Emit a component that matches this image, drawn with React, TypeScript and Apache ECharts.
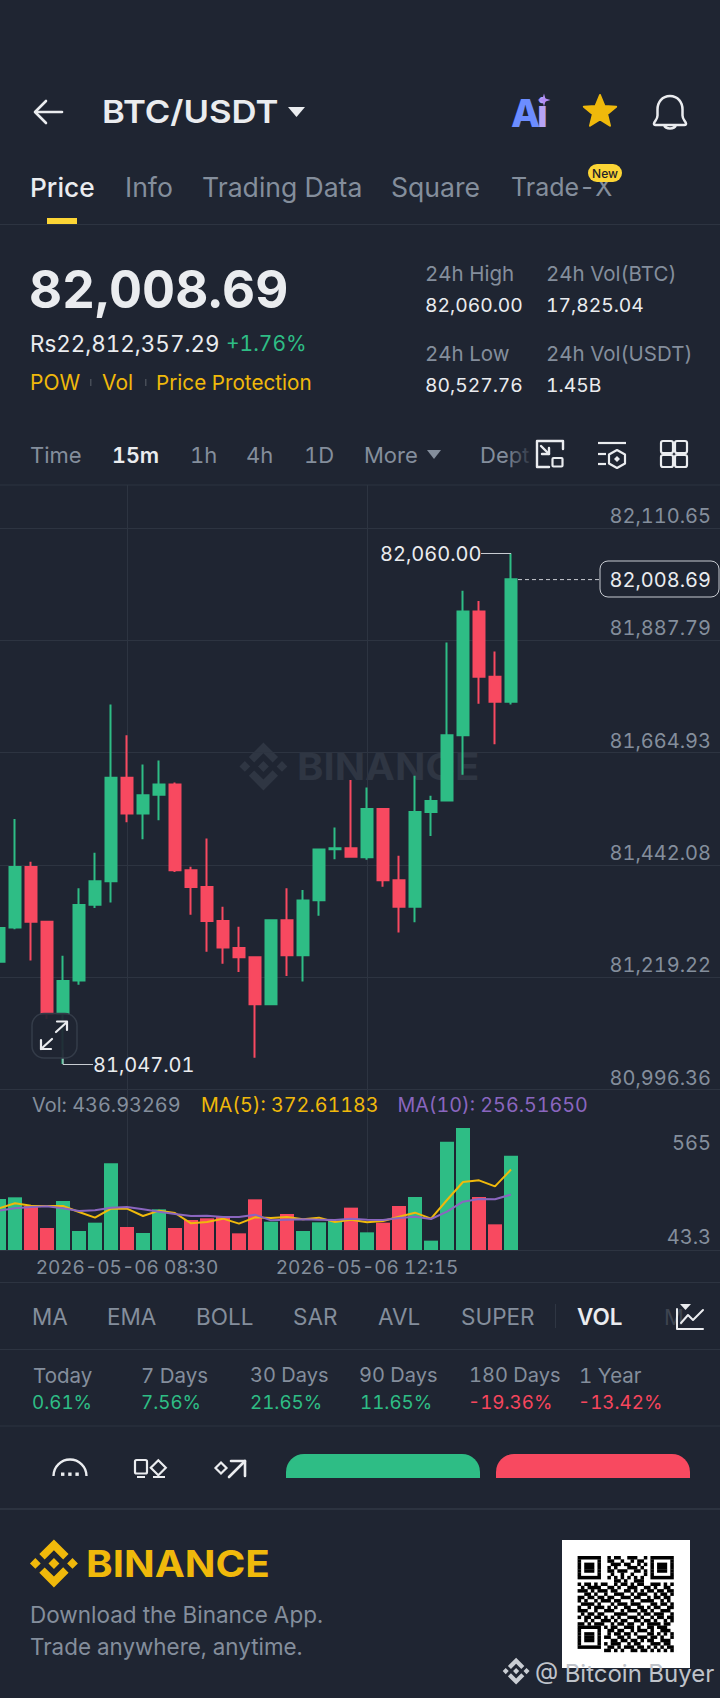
import React, { useEffect, useRef } from "react";
import * as echarts from "echarts";

const categories = [
  "2026-05-06 06:30","2026-05-06 06:45","2026-05-06 07:00","2026-05-06 07:15","2026-05-06 07:30","2026-05-06 07:45",
  "2026-05-06 08:00","2026-05-06 08:15","2026-05-06 08:30","2026-05-06 08:45","2026-05-06 09:00","2026-05-06 09:15",
  "2026-05-06 09:30","2026-05-06 09:45","2026-05-06 10:00","2026-05-06 10:15","2026-05-06 10:30","2026-05-06 10:45",
  "2026-05-06 11:00","2026-05-06 11:15","2026-05-06 11:30","2026-05-06 11:45","2026-05-06 12:00","2026-05-06 12:15",
  "2026-05-06 12:30","2026-05-06 12:45","2026-05-06 13:00","2026-05-06 13:15","2026-05-06 13:30","2026-05-06 13:45",
  "2026-05-06 14:00","2026-05-06 14:15","2026-05-06 14:30","2026-05-06 14:45","2026-05-06 15:00","2026-05-06 15:15",
  "2026-05-06 15:30","2026-05-06 15:45","2026-05-06 16:00","2026-05-06 16:15","2026-05-06 16:30","2026-05-06 16:45",
  "2026-05-06 17:00","2026-05-06 17:15","2026-05-06 17:30","2026-05-06 17:45",
];
const opens = [81249.8,81317.9,81437.7,81329.2,81146.2,81212.6,81363.2,81409.4,81615.1,81543.8,81581.0,81601.3,81431.2,81398.0,81330.8,81277.4,81258.8,81165.6,81332.4,81262.8,81372.1,81473.3,81475.0,81457.2,81552.7,81411.8,81359.2,81547.0,81569.7,81699.3,81944.6,81815.1,81765.7];
const closes = [81317.0,81437.7,81329.2,81146.2,81211.8,81362.4,81409.4,81615.1,81543.8,81580.2,81601.3,81431.2,81398.0,81330.8,81278.2,81258.8,81165.6,81332.4,81262.8,81371.3,81472.5,81475.0,81458.0,81552.7,81411.8,81359.2,81547.0,81568.9,81699.3,81944.6,81815.1,81765.7,82008.69];
const lows = [81237.7,81314.6,81252.3,81136.5,81047.01,81204.5,81356.8,81367.3,81526.8,81492.8,81530.8,81428.0,81343.0,81270.0,81245.8,81229.6,81059.5,81165.6,81221.5,81211.0,81341.3,81453.0,81458.0,81452.3,81398.8,81308.1,81328.4,81499.2,81568.9,81620.7,81761.6,81681.5,81760.0];
const highs = [81359.2,81533.3,81448.2,81329.2,81262.0,81395.6,81466.1,81760.0,81699.3,81641.0,81649.0,81605.3,81438.5,81494.4,81359.2,81319.5,81258.8,81332.4,81395.6,81392.3,81472.5,81516.3,81610.2,81595.6,81552.7,81460.4,81619.1,81579.4,81883.1,81985.9,81965.7,81865.3,82060.0];
const volumes = [236.2,244.0,203.8,101.9,227.0,88.0,126.6,401.4,106.5,78.7,188.4,101.9,139.0,146.7,154.4,77.2,234.7,131.2,166.8,88.0,128.2,134.3,196.1,81.8,126.6,203.8,245.5,43.3,501.8,565.0,245.5,118.9,436.93];
const ma5 = [193,216.2,205.4,203.8,203.8,176,149.8,191.5,191.5,157.5,182.2,171.4,123.5,129.7,145.1,122,151.3,148.2,152.9,142,149.8,129.7,140.5,128.2,134.3,154.4,172.9,145.1,231.6,315,322.7,294.9,372.61];
const ma10 = [182.2,193,199.2,202.3,193,180.6,183.7,196.1,199.2,188.4,177.6,166.8,157.5,159,152.9,152.9,163.7,137.4,140.5,142,140.5,139,145.1,140.5,139,148.2,154.4,143.6,177.6,223.9,236.2,234.7,256.52];
const priceTicks = [82110.65,81887.79,81664.93,81442.08,81219.22,80996.36];
const timeTabs = ["Price","Info","Trading Data","Square","Trade-X"];
const qrMiddleTop = ["010110011100101","011001001011000","001110110010110","010100011101001","011011100110100","001001001000110","010101010101010","000110100111000"];
const qrMain = [
  "10110101100101101011001110101","01011110011010011100110100110","11101011101100110101011011011","00110100100111001011100101101",
  "11011011011001110110010110110","10100101110110001001111001010","01111010001011101110001101101","10010111010100110011010110011",
  "11100100111001011101101001110","01011011000111100010110111001","10110110101010011101001011011","00101001110101100110110100101","11010111001011011001011110110",
];
const qrFinderRows = ["1111111","1000001","1011101","1011101","1011101","1000001","1111111"];
const qrLastMid = ["1011001110100110111001","0110110010111010011101","0101101101000110101011","1100110100111011010010","0011011011010110011101","1011100101100011101100","0110101110110101010111","1101010011011010101011"];

const BG = "#1F2532", GRID = "#2D3441", GREY = "#848E9C", WHITE = "#EAECEF", GREEN = "#2EBD85", RED = "#F6465D", RED2 = "#F84960", GOLD = "#F0B90B", PURPLE = "#8A66BF";
const FONT = "Inter";

const LOGO = "M38.73 53.2L64 27.94l25.28 25.28 14.7-14.7L64-1.46 24.03 38.51zM-1.46 64l14.7-14.7L27.94 64l-14.7 14.7zM38.73 74.8L64 100.06l25.28-25.28 14.71 14.69L64 129.46 24.03 89.5zM100.06 64l14.7-14.7 14.7 14.7-14.7 14.7zM78.91 64L64 49.07 49.09 64 64 78.93z";
const BELL = "M670 96c-8 0-12.500 6.500-12.500 13.500v6c0 4-3 5.500-3.500 8 0 1 .5 1.500 1.500 1.500h29c1 0 1.500-.5 1.500-1.500-.5-2.500-3.500-4-3.500-8v-6c0-7-4.500-13.500-12.500-13.500zM664 125c1 2.500 3 3.500 6 3.500s5-1 6-3.500";
echarts.graphic.registerShape("logo", echarts.graphic.extendPath(LOGO, {}));
echarts.graphic.registerShape("bell", echarts.graphic.extendPath(BELL, {}));

const T = (text: string, x: number, y: number, size: number, fill: string, weight = 400, align = "left", extra: any = {}) => ({
  type: "text", x, y, z: 20, silent: true,
  style: { text, fill, font: `${weight} ${size}px ${FONT}`, textAlign: align, textVerticalAlign: "middle", verticalAlign: "middle", ...extra },
});
const W = (el: any, scaleX: number) => ({ ...el, scaleX, scaleY: 1 });
const L = (x1: number, y1: number, x2: number, y2: number, stroke: string, lineWidth = 1, extra: any = {}) => ({
  type: "line", z: 20, silent: true, shape: { x1, y1, x2, y2 }, style: { stroke, lineWidth, ...extra },
});
const PL = (points: number[][], stroke: string, lineWidth = 2.4) => ({
  type: "polyline", z: 20, silent: true, shape: { points }, style: { stroke, lineWidth, fill: "none", lineJoin: "round", lineCap: "round" },
});
const PG = (points: number[][], fill: string, extra: any = {}) => ({
  type: "polygon", z: 20, silent: true, shape: { points }, style: { fill, ...extra },
});
const R = (x: number, y: number, width: number, height: number, style: any, r: any = 0, z = 20) => ({
  type: "rect", z, silent: true, shape: { x, y, width, height, r }, style,
});

function star(cx: number, cy: number, ro: number, ri: number, n: number) {
  const pts: number[][] = [];
  for (let i = 0; i < n * 2; i++) {
    const a = -Math.PI / 2 + (i * Math.PI) / n, r = i % 2 ? ri : ro;
    pts.push([cx + r * Math.cos(a), cy + r * Math.sin(a)]);
  }
  return pts;
}
function diamond(cx: number, cy: number, r: number) {
  return [[cx, cy - r], [cx + r, cy], [cx, cy + r], [cx - r, cy]];
}

function qrElements() {
  const rows: string[] = [];
  for (let i = 0; i < 7; i++) rows.push(qrFinderRows[i] + "0" + qrMiddleTop[i].slice(0, 13) + "0" + qrFinderRows[i]);
  rows.push("00000000" + qrMiddleTop[7].slice(0, 13) + "00000000");
  for (const r of qrMain) rows.push(r);
  for (let i = 0; i < 7; i++) rows.push(qrFinderRows[i] + "0" + qrLastMid[i].slice(0, 21));
  rows.push("00000000" + qrLastMid[7].slice(0, 21));
  const m = 96 / 29, out: any[] = [];
  rows.forEach((row, j) => {
    let i = 0;
    while (i < row.length) {
      if (row[i] === "1") {
        let k = i;
        while (k < row.length && row[k] === "1") k++;
        out.push(R(577.6 + i * m, 1556 + j * m, (k - i) * m + 0.2, m + 0.2, { fill: "#000" }, 0, 21));
        i = k;
      } else i++;
    }
  });
  return out;
}

const fmt = (v: number) => v.toLocaleString("en-US", { minimumFractionDigits: 2, maximumFractionDigits: 2 });

const chrome: any[] = [
  // watermark under the candles
  { type: "logo", z: 0, silent: true, x: 240, y: 743, scaleX: 0.366, scaleY: 0.366, style: { fill: "#2F3643" } },
  { ...W(T("BINANCE", 297, 767, 37, "#2F3643", 700), 1.08), z: 0 },
  // header
  PL([[62, 112], [36, 112]], WHITE, 2.6), PL([[46, 101], [35, 112], [46, 123]], WHITE, 2.6),
  W(T("BTC/USDT", 102, 112, 31, WHITE, 600), 1.12),
  PG([[288, 107], [305, 107], [296.5, 117]], WHITE),
  T("A", 511, 113, 38, "#6C8DFF", 800), T("i", 537, 113, 38, "#B7A3F5", 800),
  PG(star(544, 100, 6.5, 2, 4), "#B18CF5"),
  PG(star(600, 112, 17, 7.5, 5), GOLD, { stroke: GOLD, lineWidth: 2, lineJoin: "round" }),
  { type: "bell", z: 20, silent: true, x: 0, y: 0, style: { fill: "none", stroke: WHITE, lineWidth: 2.5 } },
  // tabs
  T(timeTabs[0], 30, 187, 26.3, WHITE, 500), T(timeTabs[1], 125, 187, 26.6, GREY), T(timeTabs[2], 202, 187, 26.6, GREY),
  T(timeTabs[3], 391, 187, 26.6, GREY), T(timeTabs[4], 511, 187, 25, GREY),
  R(588, 164, 34, 18, { fill: "#FCD535" }, 9), T("New", 605, 173, 12, "#1E2329", 500, "center"),
  R(47, 218, 30, 6, { fill: "#FCD535" }),
  L(0, 224.5, 720, 224.5, GRID),
  // price block
  W(T("82,008.69", 29, 289, 52, WHITE, 700), 0.985),
  T("Rs22,812,357.29", 30, 343, 22.4, WHITE), T("+1.76%", 226, 343, 21, GREEN),
  T("POW", 30, 382, 21, GOLD), R(90, 379, 1.5, 7, { fill: "#474D57" }), T("Vol", 102, 382, 21, GOLD), R(145, 379, 1.5, 7, { fill: "#474D57" }), T("Price Protection", 156, 382, 20.7, GOLD),
  T("24h High", 425, 273, 20.5, GREY), T("24h Vol(BTC)", 546, 273, 20.5, GREY),
  T("82,060.00", 425, 305, 19.3, WHITE), T("17,825.04", 546, 305, 19.3, WHITE),
  T("24h Low", 425, 353, 20.5, GREY), T("24h Vol(USDT)", 546, 353, 20.5, GREY),
  T("80,527.76", 425, 385, 19.3, WHITE), T("1.45B", 546, 385, 19.3, WHITE),
  // timeframes
  T("Time", 30, 455, 22, GREY), T("15m", 112, 455, 21.5, WHITE, 600), T("1h", 190, 455, 22, GREY), T("4h", 246, 455, 22, GREY), T("1D", 304, 455, 22, GREY),
  T("More", 364, 455, 22, GREY), PG([[427, 450], [441, 450], [434, 459]], GREY),
  T("Dept", 480, 455, 22, GREY),
  R(505, 440, 30, 30, { fill: new echarts.graphic.LinearGradient(0, 0, 1, 0, [{ offset: 0, color: "rgba(31,37,50,0)" }, { offset: 1, color: BG }]) }),
  PL([[563, 449], [563, 441], [537, 441], [537, 467], [549, 467]], WHITE), R(552.5, 458, 10, 8.5, { stroke: WHITE, lineWidth: 2.2, fill: "none" }, 1),
  PL([[541, 446], [549, 454]], WHITE), PL([[542, 454], [549, 454], [549, 448]], WHITE),
  L(598, 443, 626, 443, WHITE, 2.2), L(598, 454, 606, 454, WHITE, 2.2), L(598, 464, 606, 464, WHITE, 2.2),
  PG([[617, 450], [625, 454.5], [625, 463.5], [617, 468], [609, 463.5], [609, 454.5]], "none", { stroke: WHITE, lineWidth: 2.2, lineJoin: "round" }),
  PG(diamond(617, 459, 3), WHITE),
  R(661, 441, 12, 12, { stroke: WHITE, lineWidth: 2.2, fill: "none" }, 2), R(675, 441, 12, 12, { stroke: WHITE, lineWidth: 2.2, fill: "none" }, 2),
  R(661, 455, 12, 12, { stroke: WHITE, lineWidth: 2.2, fill: "none" }, 2), R(675, 455, 12, 12, { stroke: WHITE, lineWidth: 2.2, fill: "none" }, 2),
  // chart overlays
  L(0, 485, 720, 485, GRID),
  T("82,060.00", 481.5, 554, 20, WHITE, 400, "right"), L(481, 553.5, 511, 553.5, "#C8CCD2", 1),
  T("81,047.01", 93, 1064.5, 20, WHITE), L(63, 1064.5, 93, 1064.5, "#C8CCD2", 1), L(63, 1050, 63, 1064.5, "#C8CCD2", 1),
  L(518, 579.6, 600, 579.6, "#C8CCD2", 1, { lineDash: [4, 3] }),
  R(600, 561, 119, 36, { fill: BG, stroke: "#C8CCD2", lineWidth: 1 }, 8), T("82,008.69", 711, 579.6, 20, WHITE, 400, "right"),
  R(32, 1013.5, 45, 44.5, { fill: "rgba(31,37,50,0.92)", stroke: "#343C49", lineWidth: 1.5 }, 12),
  PL([[56, 1032], [67, 1022]], WHITE, 2.2), PL([[57, 1021.5], [67, 1021.5], [67, 1030]], WHITE, 2.2),
  PL([[41, 1049], [52, 1039]], WHITE, 2.2), PL([[41, 1040], [41, 1049], [51, 1049]], WHITE, 2.2),
  T("Vol: 436.93269", 32, 1105, 19.9, GREY), T("MA(5): 372.61183", 201, 1105, 19.7, GOLD), T("MA(10): 256.51650", 397.5, 1105, 19.7, PURPLE),
  T("565", 711, 1142.7, 20, GREY, 400, "right"), T("43.3", 711, 1236.7, 20, GREY, 400, "right"),
  // indicators
  L(0, 1282.5, 720, 1282.5, GRID),
  T("MA", 32, 1316.7, 22.5, GREY), T("EMA", 107, 1316.7, 22.5, GREY), T("BOLL", 196, 1316.7, 22.5, GREY), T("SAR", 293, 1316.7, 22.5, GREY), T("AVL", 378, 1316.7, 22.5, GREY), T("SUPER", 461, 1316.7, 22.5, GREY),
  R(555, 1304, 1, 24, { fill: "#2F3643" }), T("VOL", 577, 1316.7, 22.5, WHITE, 600), T("M", 664, 1316.7, 22, "#3D4450"),
  PG([[680, 1304], [691, 1304], [685.5, 1310]], WHITE),
  PL([[677, 1309], [677, 1329], [703, 1329]], WHITE, 2), PL([[681, 1323], [688, 1315], [693, 1320], [703, 1310]], WHITE, 2),
  L(0, 1349.5, 720, 1349.5, GRID),
  T("Today", 33, 1375, 20.5, GREY), T("7 Days", 141, 1375, 20.5, GREY), T("30 Days", 250, 1375, 20, GREY), T("90 Days", 359, 1375, 20, GREY), T("180 Days", 469, 1375, 20, GREY), T("1 Year", 579, 1375, 20.5, GREY),
  T("0.61%", 32, 1402.7, 18.8, GREEN), T("7.56%", 141, 1402.7, 18.8, GREEN), T("21.65%", 250, 1402.7, 18.8, GREEN), T("11.65%", 360, 1402.7, 18.8, GREEN), T("-19.36%", 468, 1402.7, 18.8, RED), T("-13.42%", 578, 1402.7, 18.8, RED),
  L(0, 1426, 720, 1426, GRID),
  // bottom bar
  { type: "arc", z: 20, silent: true, shape: { cx: 70, cy: 1476, r: 16.5, startAngle: Math.PI, endAngle: 2 * Math.PI }, style: { stroke: WHITE, lineWidth: 2.4, fill: "none" } },
  R(61, 1472.5, 3.4, 3.4, { fill: WHITE }), R(68.2, 1472.5, 3.4, 3.4, { fill: WHITE }), R(75.4, 1472.5, 3.4, 3.4, { fill: WHITE }),
  R(135, 1460, 12, 13.5, { stroke: WHITE, lineWidth: 2.2, fill: "none" }, 1.5), PG(diamond(158.3, 1467.7, 7.5), "none", { stroke: WHITE, lineWidth: 2.2 }),
  L(137, 1477, 145, 1477, WHITE, 2), L(153, 1477, 165, 1477, WHITE, 2),
  PG(diamond(221, 1468, 5.5), "none", { stroke: WHITE, lineWidth: 2.2 }),
  PL([[229, 1477], [245, 1461]], WHITE, 2.6), PL([[231, 1461], [245, 1461], [245, 1476]], WHITE, 2.6),
  R(286, 1454, 194, 24, { fill: GREEN }, [18, 18, 0, 0]), R(496, 1454, 194, 24, { fill: RED2 }, [18, 18, 0, 0]),
  L(0, 1509, 720, 1509, "#2C3340", 2),
  // footer
  { type: "logo", z: 20, silent: true, x: 30.5, y: 1540, scaleX: 0.366, scaleY: 0.366, style: { fill: GOLD } },
  W(T("BINANCE", 86, 1564, 37, GOLD, 700), 1.09),
  T("Download the Binance App.", 30, 1614, 22.5, GREY), T("Trade anywhere, anytime.", 30, 1646.7, 22.4, GREY),
  R(562, 1540, 128, 128, { fill: "#FFFFFF" }, 0, 20),
  ...qrElements(),
  { type: "logo", z: 22, silent: true, x: 503, y: 1658, scaleX: 0.205, scaleY: 0.205, style: { fill: "#C9CDD3" } },
  { ...T("@ Bitcoin Buyer", 535, 1673, 24, "#BFC3CA", 400, "left", { shadowBlur: 3, shadowColor: "rgba(0,0,0,0.6)" }), z: 22 },
];

const option: any = {
  animation: false,
  backgroundColor: BG,
  textStyle: { fontFamily: FONT },
  grid: [
    { left: -9, top: 485, width: 736, height: 604.6, outerBoundsMode: "none" },
    { left: -9, top: 1090, width: 736, height: 160, outerBoundsMode: "none" },
  ],
  xAxis: [
    {
      type: "category", gridIndex: 0, data: categories, boundaryGap: true,
      axisLine: { show: false }, axisTick: { show: false }, axisLabel: { show: false },
      splitLine: { show: true, interval: (i: number) => i === 8 || i === 23, alignWithLabel: true, lineStyle: { color: GRID, width: 1 } },
    },
    {
      type: "category", gridIndex: 1, data: categories, boundaryGap: true,
      axisLine: { show: true, lineStyle: { color: GRID, width: 1 } }, axisTick: { show: false },
      axisLabel: { show: true, interval: (i: number) => i === 8 || i === 23, color: GREY, fontSize: 19, fontFamily: FONT, margin: 8, hideOverlap: false },
      splitLine: { show: true, interval: (i: number) => i === 8 || i === 23, alignWithLabel: true, lineStyle: { color: GRID, width: 1 } },
    },
  ],
  yAxis: [
    {
      type: "value", gridIndex: 0, position: "right", min: 80996.36, max: 82195.55, scale: true,
      axisLine: { show: false }, axisTick: { show: false, customValues: priceTicks },
      axisLabel: { show: true, inside: true, customValues: priceTicks, formatter: (v: number) => fmt(v), color: GREY, fontSize: 20, fontFamily: FONT, margin: 16, verticalAlign: "bottom", lineHeight: 24, showMinLabel: true, showMaxLabel: true },
      splitLine: { show: true, lineStyle: { color: GRID, width: 1 } },
    },
    {
      type: "value", gridIndex: 1, position: "right", min: 0, max: 740.98,
      axisLine: { show: false }, axisTick: { show: false }, axisLabel: { show: false }, splitLine: { show: false },
    },
  ],
  graphic: { elements: chrome },
  series: [
    {
      type: "candlestick", xAxisIndex: 0, yAxisIndex: 0, barWidth: 12, z: 5,
      data: opens.map((o, i) => [o, closes[i], lows[i], highs[i]]),
      itemStyle: { color: GREEN, color0: RED2, borderColor: GREEN, borderColor0: RED2, borderWidth: 2 },
    },
    {
      type: "bar", xAxisIndex: 1, yAxisIndex: 1, barWidth: 14, z: 5,
      data: volumes.map((v, i) => ({ value: v, itemStyle: { color: closes[i] >= opens[i] ? GREEN : RED2 } })),
    },
    { type: "line", xAxisIndex: 1, yAxisIndex: 1, data: ma5, symbol: "none", z: 6, lineStyle: { color: GOLD, width: 2 } },
    { type: "line", xAxisIndex: 1, yAxisIndex: 1, data: ma10, symbol: "none", z: 7, lineStyle: { color: PURPLE, width: 2 } },
  ],
};

export default function App() {
  const ref = useRef<HTMLDivElement>(null);
  useEffect(() => {
    document.body.style.margin = "0";
    document.body.style.background = BG;
    const styleEl = document.createElement("style");
    styleEl.textContent = "svg text, svg tspan { font-feature-settings: 'tnum' 1 !important; font-variant-numeric: tabular-nums !important; }";
    document.head.appendChild(styleEl);
    const chart = echarts.init(ref.current!, undefined, { renderer: "svg", width: 720, height: 1698 });
    chart.setOption(option);
    return () => {
      chart.dispose();
      styleEl.remove();
    };
  }, []);
  return <div ref={ref} style={{ width: 720, height: 1698 }} />;
}
